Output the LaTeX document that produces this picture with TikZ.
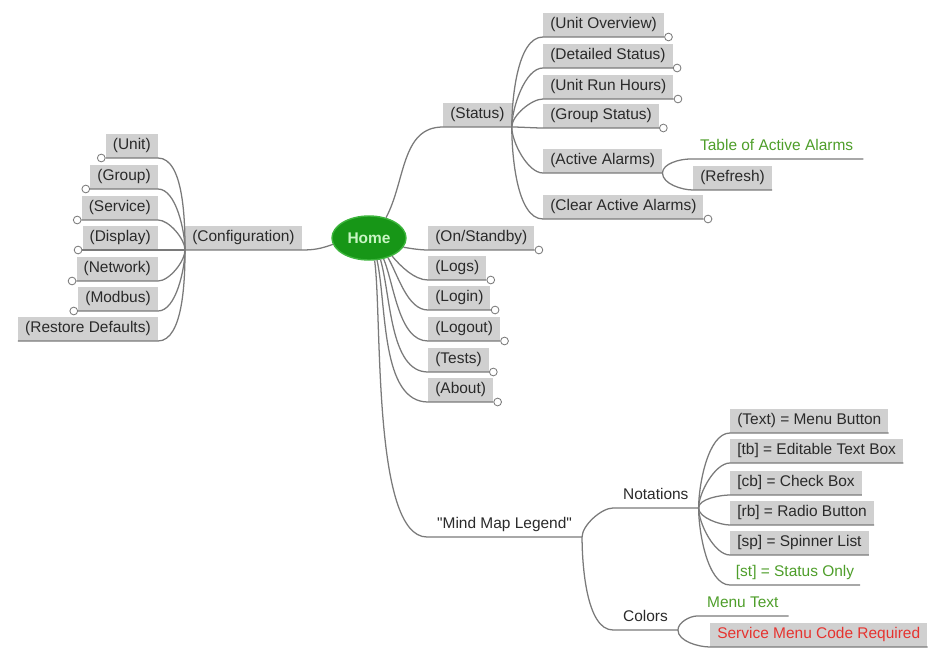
\documentclass[tikz,border=0pt]{standalone}
\usepackage{fontspec}
\setmainfont{Liberation Sans}
\usepackage{tikz}
\usetikzlibrary{positioning,shapes.geometric}
\definecolor{boxgray}{HTML}{D0D0D0}
\definecolor{linkgray}{HTML}{7A7A7A}
\definecolor{txtgray}{HTML}{2A2A2A}
\definecolor{homegreen}{HTML}{179617}
\definecolor{homeedge}{HTML}{3DB53D}
\definecolor{hometext}{HTML}{C9F5C4}
\definecolor{menugreen}{HTML}{4E9E2A}
\definecolor{codered}{HTML}{E6332F}
\tikzset{font=\fontsize{11}{13}\selectfont}
\tikzset{
  menubox/.style={fill=boxgray, text=txtgray, inner xsep=5pt, inner ysep=3pt,
    text height=8.5pt, text depth=2.5pt},
  legendtext/.style={text=txtgray, inner xsep=7pt, inner ysep=3pt,
    text height=8.5pt, text depth=2.5pt, anchor=south west},
  homenode/.style={ellipse, fill=homegreen, draw=homeedge, line width=1pt,
    minimum width=1.6cm, minimum height=1.1cm, text=hometext,
    font=\fontsize{11}{13}\selectfont\bfseries},
  link/.style={draw=linkgray, line width=0.9pt},
  knob/.style={circle, draw=linkgray, fill=white, line width=0.6pt,
    inner sep=0pt, minimum size=5.5pt}
}

\begin{document}
\begin{tikzpicture}[x=0.025cm,y=0.025cm]
  \useasboundingbox (0,0) rectangle (940,-657);
  \node[homenode] (home) at (369,-238) {Home};

  % configuration branch
  \node[menubox,anchor=south west] (conf) at (185,-250) {(Configuration)};
  \node[menubox,anchor=south east] (unit) at (158,-158) {(Unit)};
  \node[menubox,anchor=south east] (group) at (158,-189) {(Group)};
  \node[menubox,anchor=south east] (service) at (158,-220) {(Service)};
  \node[menubox,anchor=south east] (display) at (158,-250) {(Display)};
  \node[menubox,anchor=south east] (network) at (158,-281) {(Network)};
  \node[menubox,anchor=south east] (modbus) at (158,-311) {(Modbus)};
  \node[menubox,anchor=south east] (restore) at (158,-341) {(Restore Defaults)};
  \draw[link] (home.190) to[out=200,in=0] (conf.south east) -- (conf.south west);
  \foreach \n/\a in {unit/90, group/90, service/90, display/180, network/-90, modbus/-90, restore/-90}{
    \draw[link] (conf.south west) to[out=\a,in=0,looseness=0.7] (\n.south east) -- (\n.south west);
  };
  \foreach \n in {unit, group, service, display, network, modbus}{
    \node[knob,anchor=east] (k-\n) at (\n.south west) {};
  };

  % status branch
  \node[menubox,anchor=south west] (status) at (443,-127) {(Status)};
  \node[menubox,anchor=south west] (uo) at (543,-37) {(Unit Overview)};
  \node[menubox,anchor=south west] (ds) at (543,-68) {(Detailed Status)};
  \node[menubox,anchor=south west] (urh) at (543,-99) {(Unit Run Hours)};
  \node[menubox,anchor=south west] (gs) at (543,-128) {(Group Status)};
  \node[menubox,anchor=south west] (aa) at (543,-173) {(Active Alarms)};
  \node[menubox,anchor=south west] (caa) at (543,-219) {(Clear Active Alarms)};
  \node[legendtext,text=menugreen] (taa) at (690,-159) {Table of Active Alarms};
  \node[menubox,anchor=south west] (refresh) at (693,-190) {(Refresh)};
  \draw[link] (home.50) to[out=62,in=180] (status.south west) -- (status.south east);
  \foreach \n/\a in {uo/90, ds/90, urh/90, gs/0, aa/-90, caa/-90}{
    \draw[link] (status.south east) to[out=\a,in=180,looseness=0.7] (\n.south west) -- (\n.south east);
  };
  \foreach \n/\a in {taa/90, refresh/-90}{
    \draw[link] (aa.south east) to[out=\a,in=180,looseness=0.8] (\n.south west) -- (\n.south east);
  };
  \foreach \n in {uo, ds, urh, gs, caa}{
    \node[knob,anchor=west] (k-\n) at (\n.south east) {};
  };

  % menu items below home
  \node[menubox,anchor=south west] (onst) at (428,-250) {(On/Standby)};
  \node[menubox,anchor=south west] (logs) at (428,-280) {(Logs)};
  \node[menubox,anchor=south west] (login) at (428,-310) {(Login)};
  \node[menubox,anchor=south west] (logout) at (428,-341) {(Logout)};
  \node[menubox,anchor=south west] (tests) at (428,-372) {(Tests)};
  \node[menubox,anchor=south west] (about) at (428,-402) {(About)};
  \foreach \n/\a/\o in {onst/-15/-10, logs/-38/-50, login/-46/-60, logout/-55/-68, tests/-62/-74, about/-70/-78}{
    \draw[link] (home.\a) to[out=\o,in=180,looseness=0.8] (\n.south west) -- (\n.south east);
    \node[knob,anchor=west] (k-\n) at (\n.south east) {};
  };

  % legend
  \node[legendtext] (legend) at (427,-537) {\textquotedbl Mind Map Legend\textquotedbl};
  \node[legendtext] (notations) at (613,-508) {Notations};
  \node[legendtext] (colors) at (613,-630) {Colors};
  \draw[link] (home.-76) to[out=-82,in=180,looseness=0.5] (legend.south west) -- (legend.south east);
  \foreach \n/\a in {notations/90, colors/-90}{
    \draw[link] (legend.south east) to[out=\a,in=180,looseness=0.7] (\n.south west) -- (\n.south east);
  };
  \node[menubox,anchor=south west] (tmb) at (730,-433) {(Text) = Menu Button};
  \node[menubox,anchor=south west] (tb) at (730,-463) {[tb] = Editable Text Box};
  \node[menubox,anchor=south west] (cb) at (730,-495) {[cb] = Check Box};
  \node[menubox,anchor=south west] (rb) at (730,-525) {[rb] = Radio Button};
  \node[menubox,anchor=south west] (sp) at (730,-555) {[sp] = Spinner List};
  \node[legendtext,text=menugreen,inner xsep=4pt] (st) at (730,-585) {[st] = Status Only};
  \foreach \n/\a in {tmb/90, tb/90, cb/90, rb/-90, sp/-90, st/-90}{
    \draw[link] (notations.south east) to[out=\a,in=180,looseness=0.7] (\n.south west) -- (\n.south east);
  };
  \node[legendtext,text=menugreen] (menutext) at (697,-616) {Menu Text};
  \node[menubox,anchor=south west,text=codered] (svc) at (710,-647) {Service Menu Code Required};
  \foreach \n/\a in {menutext/90, svc/-90}{
    \draw[link] (colors.south east) to[out=\a,in=180,looseness=0.8] (\n.south west) -- (\n.south east);
  };
\end{tikzpicture}
\end{document}
